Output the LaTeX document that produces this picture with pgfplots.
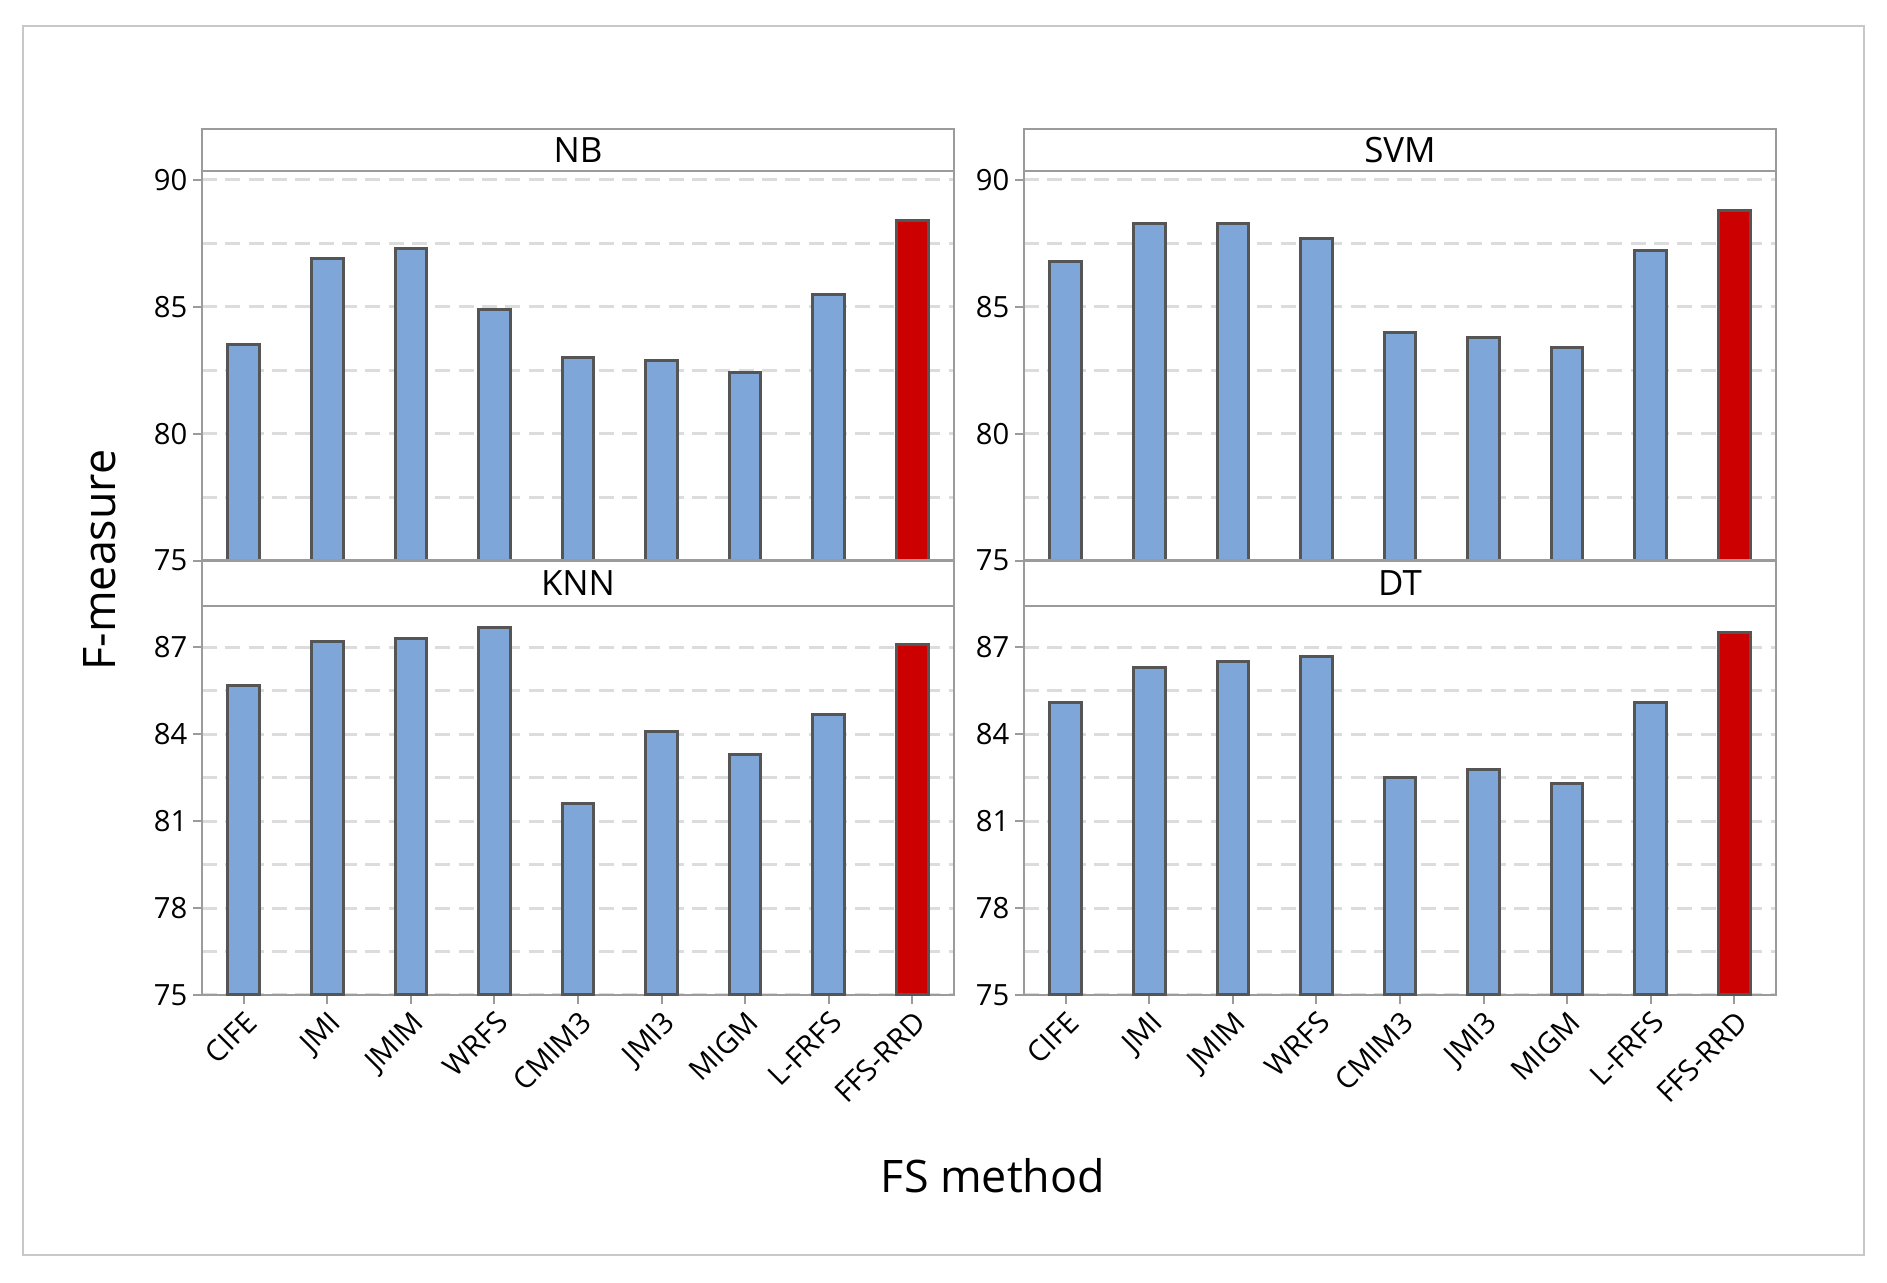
\documentclass[border=0pt]{standalone}
\usepackage{fontspec}
\setmainfont{Open Sans}
\usepackage{pgfplots}
\pgfplotsset{compat=1.18}

\definecolor{barblue}{HTML}{7EA6D8}
\definecolor{barred}{HTML}{CC0000}
\definecolor{baredge}{HTML}{555555}
\definecolor{axisgray}{HTML}{9B9B9B}
\definecolor{gridgray}{HTML}{DCDCDC}
\definecolor{framegray}{HTML}{C8C8C8}

\pgfplotsset{
 panel/.style={
  scale only axis, width=225.6bp,
  xmin=-0.5, xmax=8.5, ymin=75,
  axis line style={draw=axisgray, line width=0.7bp},
  tick style={draw=axisgray, line width=0.6bp},
  major tick length=2.7bp, minor tick length=0pt,
  tick align=outside, ytick pos=left, xtick pos=lower,
  ymajorgrids, yminorgrids,
  major grid style={draw=gridgray, line width=0.9bp, dash pattern=on 4.5bp off 2.5bp},
  minor grid style={draw=gridgray, line width=0.9bp, dash pattern=on 4.5bp off 2.5bp},
  ybar, bar width=0.38,
  /pgf/number format/assume math mode=true,
  yticklabel style={font=\fontsize{8.8}{10}\selectfont, inner sep=1.5bp},
  xticklabel style={font=\fontsize{8.8}{10}\selectfont, rotate=45, anchor=north east, inner sep=1bp},
  clip=false,
 },
 toprow/.style={panel, height=116.9bp, ymax=90.35,
  ytick={75,80,85,90}, minor ytick={77.5,82.5,87.5}, xtick=\empty},
 botrow/.style={panel, height=116.7bp, ymax=88.43,
  ytick={75,78,81,84,87}, minor ytick={76.5,79.5,82.5,85.5},
  xtick={0,...,8}, xticklabels={CIFE,JMI,JMIM,WRFS,CMIM3,JMI3,MIGM,L-FRFS,FFS-RRD}},
 bluebars/.style={fill=barblue, draw=baredge, line width=0.9bp, bar shift=0pt},
 redbars/.style={fill=barred, draw=baredge, line width=0.9bp, bar shift=0pt},
}

\begin{document}
\begin{tikzpicture}
\useasboundingbox (0,0) rectangle (566.1bp,384.6bp);
\draw[framegray, line width=0.7bp] (6.9bp,8.1bp) rectangle (559.2bp,376.8bp);

% NB
\begin{axis}[toprow, at={(60.6bp,216.4bp)}, anchor=south west]
\addplot[bluebars] coordinates {(0,83.5) (1,86.9) (2,87.3) (3,84.9) (4,83.0) (5,82.9) (6,82.4) (7,85.5)};
\addplot[redbars] coordinates {(8,88.4)};
\draw[axisgray, line width=0.7bp] (rel axis cs:0,1) rectangle +(225.6bp,12.6bp);
\node[yshift=6.3bp, font=\fontsize{10.5}{12}\selectfont] at (rel axis cs:0.5,1) {NB};
\end{axis}

% SVM
\begin{axis}[toprow, at={(307.2bp,216.4bp)}, anchor=south west]
\addplot[bluebars] coordinates {(0,86.8) (1,88.3) (2,88.3) (3,87.7) (4,84.0) (5,83.8) (6,83.4) (7,87.2)};
\addplot[redbars] coordinates {(8,88.8)};
\draw[axisgray, line width=0.7bp] (rel axis cs:0,1) rectangle +(225.6bp,12.6bp);
\node[yshift=6.3bp, font=\fontsize{10.5}{12}\selectfont] at (rel axis cs:0.5,1) {SVM};
\end{axis}

% KNN
\begin{axis}[botrow, at={(60.6bp,86.1bp)}, anchor=south west]
\addplot[bluebars] coordinates {(0,85.7) (1,87.2) (2,87.3) (3,87.7) (4,81.6) (5,84.1) (6,83.3) (7,84.7)};
\addplot[redbars] coordinates {(8,87.1)};
\draw[axisgray, line width=0.7bp] (rel axis cs:0,1) rectangle +(225.6bp,13.6bp);
\node[yshift=6.8bp, font=\fontsize{10.5}{12}\selectfont] at (rel axis cs:0.5,1) {KNN};
\end{axis}

% DT
\begin{axis}[botrow, at={(307.2bp,86.1bp)}, anchor=south west]
\addplot[bluebars] coordinates {(0,85.1) (1,86.3) (2,86.5) (3,86.7) (4,82.5) (5,82.8) (6,82.3) (7,85.1)};
\addplot[redbars] coordinates {(8,87.5)};
\draw[axisgray, line width=0.7bp] (rel axis cs:0,1) rectangle +(225.6bp,13.6bp);
\node[yshift=6.8bp, font=\fontsize{10.5}{12}\selectfont] at (rel axis cs:0.5,1) {DT};
\end{axis}

\node[font=\fontsize{13.5}{15}\selectfont] at (297.9bp,31.8bp) {FS method};
\node[font=\fontsize{13.5}{15}\selectfont, rotate=90] at (30bp,216.6bp) {F-measure};
\end{tikzpicture}
\end{document}
